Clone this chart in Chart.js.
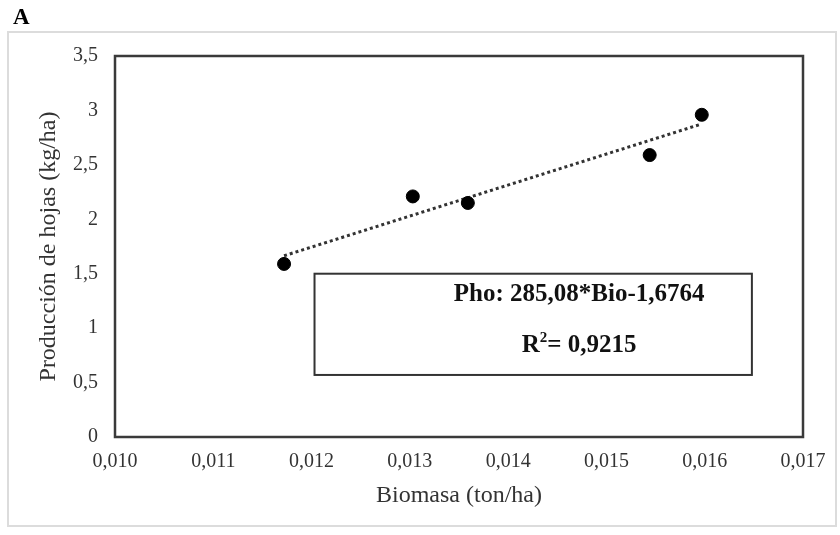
<!DOCTYPE html>
<html>
<head>
<meta charset="utf-8">
<script src="https://cdn.jsdelivr.net/npm/chart.js@4"></script>
<style>
  html, body { margin: 0; padding: 0; background: #fff; }
  #wrap { position: relative; width: 840px; height: 535px; }
</style>
</head>
<body>
<div id="wrap"><canvas id="myChart" width="840" height="535"></canvas></div>
<script>
// data
var biomasa = [0.01172, 0.01303, 0.01359, 0.01544, 0.01597];
var hojas = [1.59, 2.21, 2.15, 2.59, 2.96];
// trend line ends (as drawn)
var trendX = [0.01172, 0.01597];
var trendY = [1.665, 2.876];
var ecuacion = 'Pho: 285,08*Bio-1,6764';
var r2Valor = '= 0,9215';
// text box, in data units
var cajaX = [0.01203, 0.01648];
var cajaY = [0.57, 1.50];

var serif = "'Liberation Serif', 'Times New Roman', serif";
var ctx = document.getElementById('myChart').getContext('2d');

var puntos = biomasa.map(function (b, i) { return { x: b, y: hojas[i] }; });
var tendencia = trendX.map(function (b, i) { return { x: b, y: trendY[i] }; });

var decoracion = {
    id: 'decoracion',
    beforeDraw: function (chart) {
        var c = chart.ctx;
        c.save();
        c.fillStyle = '#fff';
        c.fillRect(0, 0, chart.width, chart.height);
        // outer frame
        c.strokeStyle = '#dcdcdc';
        c.lineWidth = 2;
        c.strokeRect(8, 32, 828, 494);
        // panel letter
        c.fillStyle = '#000';
        c.font = 'bold 23px ' + serif;
        c.textBaseline = 'alphabetic';
        c.fillText('A', 13, 24);
        c.restore();
    },
    afterDatasetsDraw: function (chart) {
        var c = chart.ctx;
        var a = chart.chartArea;
        var sx = chart.scales.x, sy = chart.scales.y;
        c.save();
        // plot frame
        c.strokeStyle = '#3a3a3a';
        c.lineWidth = 2.5;
        c.strokeRect(a.left, a.top, a.right - a.left, a.bottom - a.top);
        // equation box
        var x0 = sx.getPixelForValue(cajaX[0]), x1 = sx.getPixelForValue(cajaX[1]);
        var y0 = sy.getPixelForValue(cajaY[1]), y1 = sy.getPixelForValue(cajaY[0]);
        c.fillStyle = '#fff';
        c.fillRect(x0, y0, x1 - x0, y1 - y0);
        c.strokeStyle = '#333';
        c.lineWidth = 2;
        c.strokeRect(x0, y0, x1 - x0, y1 - y0);
        var cx = x0 + (x1 - x0) * 0.605;
        c.fillStyle = '#111';
        c.textBaseline = 'middle';
        c.textAlign = 'center';
        c.font = 'bold 25px ' + serif;
        c.fillText(ecuacion, cx, y0 + 21);
        // R² line
        var w1 = c.measureText('R').width;
        c.font = 'bold 15px ' + serif;
        var w2 = c.measureText('2').width;
        c.font = 'bold 25px ' + serif;
        var w3 = c.measureText(r2Valor).width;
        var sx0 = cx - (w1 + w2 + w3) / 2;
        var ly = y0 + 72;
        c.textAlign = 'left';
        c.fillText('R', sx0, ly);
        c.font = 'bold 15px ' + serif;
        c.fillText('2', sx0 + w1, ly - 8);
        c.font = 'bold 25px ' + serif;
        c.fillText(r2Valor, sx0 + w1 + w2, ly);
        c.restore();
    }
};

var myChart = new Chart(ctx, {
    type: 'scatter',
    data: {
        datasets: [
            {
                label: 'Datos',
                data: puntos,
                backgroundColor: '#000',
                borderColor: '#000',
                pointRadius: 6.5,
                order: 1
            },
            {
                label: 'Tendencia',
                type: 'line',
                data: tendencia,
                borderColor: '#333',
                borderWidth: 3,
                borderDash: [3, 3],
                pointRadius: 0,
                fill: false,
                order: 2
            }
        ]
    },
    options: {
        responsive: false,
        animation: false,
        layout: { padding: { left: 0, top: 56, right: 37, bottom: 0 } },
        plugins: {
            legend: { display: false },
            tooltip: { enabled: false }
        },
        scales: {
            x: {
                type: 'linear',
                min: 0.010,
                max: 0.017,
                grid: { display: false, drawTicks: false },
                border: { display: false },
                ticks: {
                    stepSize: 0.001,
                    padding: 13,
                    color: '#333',
                    font: { family: serif, size: 20 },
                    callback: function (v) { return v.toFixed(3).replace('.', ','); }
                },
                title: {
                    display: true,
                    text: 'Biomasa (ton/ha)',
                    color: '#333',
                    font: { family: serif, size: 24 },
                    padding: { top: 0, bottom: 25 }
                },
                afterFit: function (s) { s.height = 98; }
            },
            y: {
                min: 0,
                max: 3.5,
                grid: { display: false, drawTicks: false },
                border: { display: false },
                ticks: {
                    stepSize: 0.5,
                    padding: 17,
                    color: '#333',
                    font: { family: serif, size: 20 },
                    callback: function (v) { return String(v).replace('.', ','); }
                },
                title: {
                    display: true,
                    text: 'Producción de hojas (kg/ha)',
                    color: '#333',
                    font: { family: serif, size: 24 },
                    padding: { top: 34, bottom: 0 }
                },
                afterFit: function (s) { s.width = 115; }
            }
        }
    },
    plugins: [decoracion]
});
</script>
</body>
</html>
